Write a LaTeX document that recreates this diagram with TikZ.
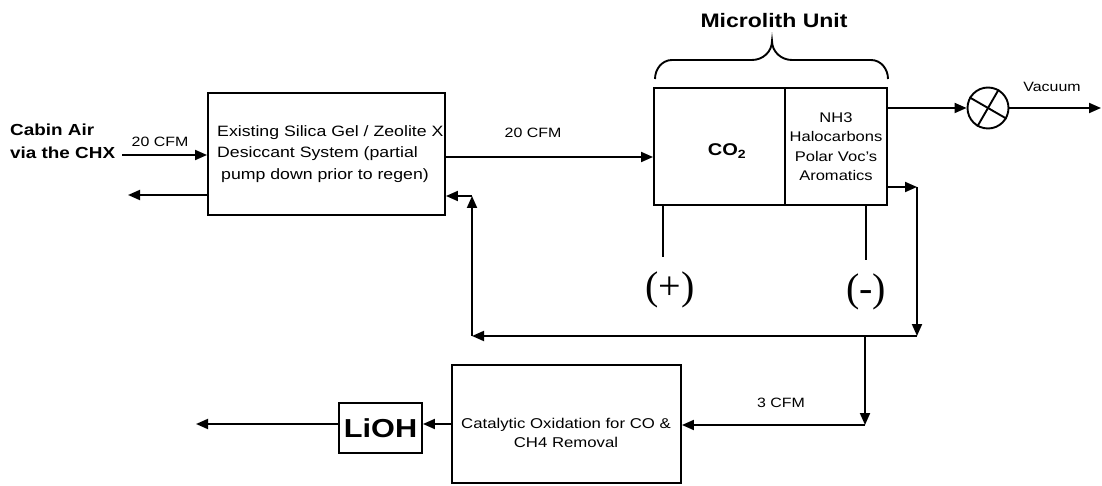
\documentclass[tikz,border=0pt]{standalone}
\usepackage{fontspec}
\setmainfont[FakeStretch=1.18]{Liberation Sans}
\newfontfamily\serifpm{Liberation Serif}
\usetikzlibrary{arrows.meta}
\begin{document}
\begin{tikzpicture}[x=1pt,y=-1pt,
  ln/.style={line width=1.9pt},
  arr/.style={ln,-{Triangle[length=12pt,width=10pt]}},
  box/.style={draw,line width=1.9pt,inner sep=0pt,align=center},
  small/.style={font=\fontsize{13.5}{16}\selectfont},
  sign/.style={font=\serifpm\fontsize{40}{40}\selectfont,inner sep=0pt}
  ]
\useasboundingbox (0,0) rectangle (1102,486);

% left input
\node[anchor=west,align=left,inner sep=0pt,font=\bfseries\fontsize{16}{23}\selectfont] (cabin) at (10,141.5) {Cabin Air\\via the CHX};
\node[small] (cfmA) at (160,142) {20 CFM};
\node[box,minimum width=237pt,minimum height=122pt] (des) at (326.5,154) {};
\node[anchor=west,align=left,inner sep=0pt,font=\fontsize{15}{21.5}\selectfont] (destxt) at (217,154) {Existing Silica Gel / Zeolite X\\Desiccant System (partial\\\hspace*{4pt}pump down prior to regen)};
\coordinate (inS) at (122,155);
\draw[arr] (inS) -- (inS -| des.west);
\coordinate (outS) at (128,195);
\draw[arr] (outS -| des.west) -- (outS);

% microlith unit
\node[box,minimum width=131pt,minimum height=117pt] (co2box) at (719.5,146.5) {};
\node[font=\bfseries\fontsize{17}{20}\selectfont] (co2) at (727,151) {CO\textsubscript{2}};
\node[box,minimum width=102pt,minimum height=117pt,font=\fontsize{14}{19.5}\selectfont] (voc) at (836,146.5) {NH3\\Halocarbons\\Polar Voc's\\Aromatics};
\node[font=\bfseries\fontsize{19.5}{22}\selectfont] (mlabel) at (774,21) {Microlith Unit};
\draw[ln] (655,79) to[out=90,in=180] (672,60) -- (752,60) to[out=0,in=-90] (772,41)
  to[out=-90,in=180] (792,60) -- (871,60) to[out=0,in=90] (888,79);

% middle flow
\node[small] (cfmB) at (533,133) {20 CFM};
\coordinate (midy) at (500,157);
\draw[arr] (midy -| des.east) -- (midy -| co2box.west);

% vacuum pump
\node[circle,draw,ln,minimum size=41pt,inner sep=0pt] (pump) at (988,108) {};
\draw[ln] (pump.150) -- (pump.-30);
\draw[ln] (pump.60) -- (pump.240);
\draw[arr] (pump.west -| voc.east) -- (pump.west);
\coordinate (vacend) at (1101,108);
\draw[arr] (pump.east) -- (vacend);
\node[small] (vac) at (1052,87) {Vacuum};

% electrodes
\coordinate (pw) at (663,257);
\draw[ln] (pw |- co2box.south) -- (pw);
\node[sign] (plus) at (670,290) {(+)};
\coordinate (mw) at (866,260);
\draw[ln] (mw |- voc.south) -- (mw);
\node[sign] (minus) at (866,292) {(-)};

% recirculation loop
\coordinate (rc) at (917,187);
\coordinate (rb) at (917,336);
\coordinate (lb) at (472,336);
\coordinate (lt) at (472,196);
\draw[arr] (rc -| voc.east) -- (rc);
\draw[arr] (rc) -- (rb);
\draw[arr] (rb) -- (lb);
\draw[arr] (lb) -- (lt);
\draw[arr] (lt) -- (lt -| des.east);

% catalytic oxidation branch
\node[box,minimum width=229pt,minimum height=118pt] (cat) at (566.5,424) {};
\node[align=center,font=\fontsize{14.2}{19.5}\selectfont] (catlbl) at (566,433) {Catalytic Oxidation for CO \&\\CH4 Removal};
\coordinate (db) at (865,336);
\coordinate (dc) at (865,425);
\draw[arr] (db) -- (dc);
\draw[arr] (dc) -- (dc -| cat.east);
\node[small] (cfmC) at (781,403) {3 CFM};

\node[box,minimum width=83pt,minimum height=50pt,font=\bfseries\fontsize{26}{28}\selectfont] (lioh) at (380.5,428) {LiOH};
\coordinate (ly) at (300,424);
\draw[arr] (ly -| cat.west) -- (ly -| lioh.east);
\coordinate (lend) at (196,424);
\draw[arr] (ly -| lioh.west) -- (lend);
\end{tikzpicture}
\end{document}
